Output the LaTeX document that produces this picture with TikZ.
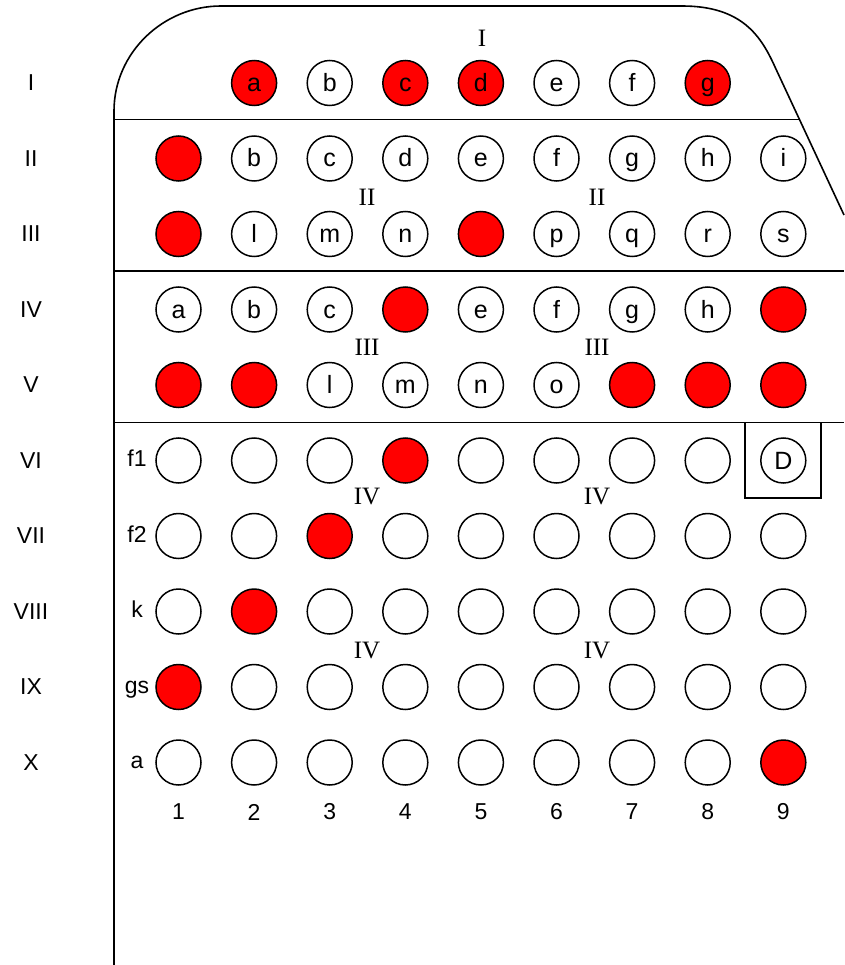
\documentclass[tikz,border=0pt]{standalone}
\usepackage{fontspec}
\setmainfont{Liberation Sans}
\newfontfamily\seriffont{Liberation Serif}
\begin{document}
\begin{tikzpicture}[x=1pt,y=-1pt,
  dot/.style={circle, draw, line width=1.5pt, minimum size=45pt, inner sep=0pt, text height=22pt, text depth=5pt, font=\fontsize{25}{25}\selectfont},
  reddot/.style={dot, fill=red},
  lab/.style={font=\fontsize{23}{23}\selectfont, inner sep=0pt},
  sidelab/.style={lab, text height=17pt, text depth=5pt},
  romlab/.style={font=\seriffont\fontsize{25}{25}\selectfont, inner sep=0pt},
  frame/.style={line width=1.6pt}]
\useasboundingbox (0,0) rectangle (844,965);
\def\cx#1{178.5+75.6*(#1-1)}
\def\ry#1{83+75.5*(#1-1)}
% outline
\coordinate (bl) at (114,965);
\coordinate (tl) at (114,111);
\coordinate (tla) at (221,6);
\coordinate (tr) at (682,6);
\coordinate (trb) at (775,67);
\coordinate (rend) at (844,215);
\draw[frame] (bl) -- (tl) .. controls (114,53) and (163,6) .. (tla) -- (tr)
  .. controls (742,6) and (761,36) .. (trb) -- (rend);
% separators
\coordinate (s1a) at (114,119.5); \coordinate (s1b) at (800,119.5);
\coordinate (s2a) at (114,271); \coordinate (s2b) at (844,271);
\coordinate (s3a) at (114,422.5); \coordinate (s3b) at (844,422.5);
\draw[frame] (s1a) -- (s1b);
\draw[frame] (s2a) -- (s2b);
\draw[frame] (s3a) -- (s3b);
% row labels
\foreach \r/\t in {1/I,2/II,3/III,4/IV,5/V,6/VI,7/VII,8/VIII,9/IX,10/X}
  \node[lab] (rl\r) at (31,{\ry{\r}}) {\t};
% row I
\foreach \c/\t/\s in {2/a/reddot,3/b/dot,4/c/reddot,5/d/reddot,6/e/dot,7/f/dot,8/g/reddot}
  \node[\s] (n1c\c) at ({\cx{\c}},{\ry{1}}) {\t};
% row II
\foreach \c/\t/\s in {1//reddot,2/b/dot,3/c/dot,4/d/dot,5/e/dot,6/f/dot,7/g/dot,8/h/dot,9/i/dot}
  \node[\s] (n2c\c) at ({\cx{\c}},{\ry{2}}) {\t};
% row III
\foreach \c/\t/\s in {1//reddot,2/l/dot,3/m/dot,4/n/dot,5//reddot,6/p/dot,7/q/dot,8/r/dot,9/s/dot}
  \node[\s] (n3c\c) at ({\cx{\c}},{\ry{3}}) {\t};
% row IV
\foreach \c/\t/\s in {1/a/dot,2/b/dot,3/c/dot,4//reddot,5/e/dot,6/f/dot,7/g/dot,8/h/dot,9//reddot}
  \node[\s] (n4c\c) at ({\cx{\c}},{\ry{4}}) {\t};
% row V
\foreach \c/\t/\s in {1//reddot,2//reddot,3/l/dot,4/m/dot,5/n/dot,6/o/dot,7//reddot,8//reddot,9//reddot}
  \node[\s] (n5c\c) at ({\cx{\c}},{\ry{5}}) {\t};
% row VI
\foreach \c/\t/\s in {1//dot,2//dot,3//dot,4//reddot,5//dot,6//dot,7//dot,8//dot,9/D/dot}
  \node[\s] (n6c\c) at ({\cx{\c}},{\ry{6}}) {\t};
\node[draw, line width=1.6pt, minimum width=76pt, minimum height=75.5pt, inner sep=0pt] (dbox) at (783,460.25) {};
% row VII
\foreach \c/\s in {1/dot,2/dot,3/reddot,4/dot,5/dot,6/dot,7/dot,8/dot,9/dot}
  \node[\s] (n7c\c) at ({\cx{\c}},{\ry{7}}) {};
% row VIII
\foreach \c/\s in {1/dot,2/reddot,3/dot,4/dot,5/dot,6/dot,7/dot,8/dot,9/dot}
  \node[\s] (n8c\c) at ({\cx{\c}},{\ry{8}}) {};
% row IX
\foreach \c/\s in {1/reddot,2/dot,3/dot,4/dot,5/dot,6/dot,7/dot,8/dot,9/dot}
  \node[\s] (n9c\c) at ({\cx{\c}},{\ry{9}}) {};
% row X
\foreach \c/\s in {1/dot,2/dot,3/dot,4/dot,5/dot,6/dot,7/dot,8/dot,9/reddot}
  \node[\s] (n10c\c) at ({\cx{\c}},{\ry{10}}) {};
% left labels
\foreach \r/\t in {6/f1,7/f2,8/k,9/gs,10/a}
  \node[sidelab] (ll\r) at (137,{\ry{\r}}) {\t};
% column numbers
\foreach \c in {1,...,9}
  \node[lab] (cn\c) at ({\cx{\c}},812) {\c};
% roman group labels
\node[romlab] (g1) at (482,38) {I};
\node[romlab] (g2a) at (367,197) {II};
\node[romlab] (g2b) at (597,197) {II};
\node[romlab] (g3a) at (367,347) {III};
\node[romlab] (g3b) at (597,347) {III};
\node[romlab] (g4a) at (367,497) {IV};
\node[romlab] (g4b) at (597,497) {IV};
\node[romlab] (g4c) at (367,650) {IV};
\node[romlab] (g4d) at (597,650) {IV};
\end{tikzpicture}
\end{document}
